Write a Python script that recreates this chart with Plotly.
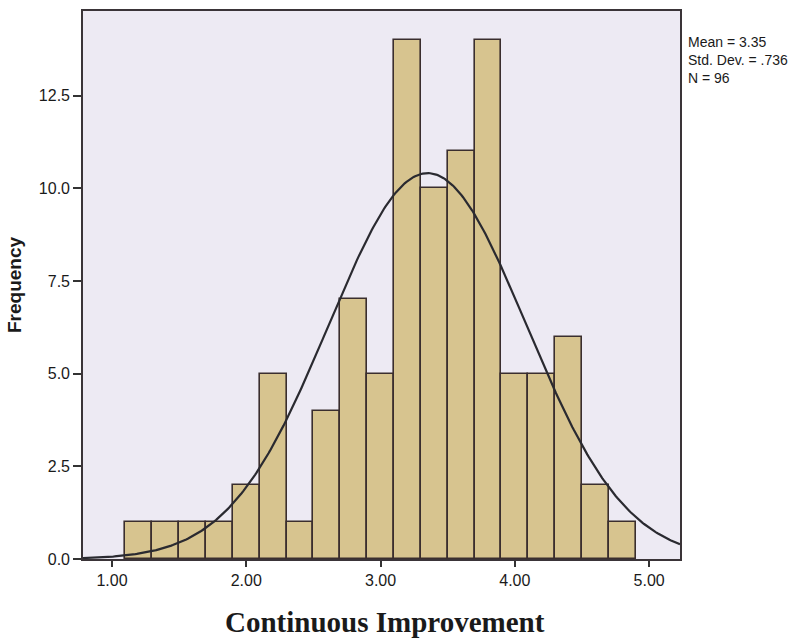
import numpy as np
import plotly.graph_objects as go

# Histogram data (bin width 0.2, starting at 1.1)
bin_starts = [1.1, 1.3, 1.5, 1.7, 1.9, 2.1, 2.3, 2.5, 2.7, 2.9,
              3.1, 3.3, 3.5, 3.7, 3.9, 4.1, 4.3, 4.5, 4.7]
frequencies = [1, 1, 1, 1, 2, 5, 1, 4, 7, 5,
               14, 10, 11, 14, 5, 5, 6, 2, 1]
bin_width = 0.2

mean_val = 3.35
std_val = 0.736
n_val = 96

x_ticks = [1.0, 2.0, 3.0, 4.0, 5.0]
y_ticks = [0.0, 2.5, 5.0, 7.5, 10.0, 12.5]

x_range = [0.784, 5.23]
y_range = [0, 14.78]

centers = [s + bin_width / 2 for s in bin_starts]

# fitted normal curve from the stated statistics
xc = np.linspace(x_range[0], x_range[1], 400)
yc = n_val * bin_width / (std_val * np.sqrt(2 * np.pi)) * np.exp(-0.5 * ((xc - mean_val) / std_val) ** 2)

fig = go.Figure()
fig.add_trace(go.Bar(
    x=centers, y=frequencies, width=bin_width,
    marker=dict(color="#D7C48F", line=dict(color="#3A2E2E", width=1.6)),
    hoverinfo="x+y", showlegend=False,
))
fig.add_trace(go.Scatter(
    x=xc, y=yc, mode="lines",
    line=dict(color="#2A2A30", width=2.2),
    hoverinfo="skip", showlegend=False,
))

tick_font = dict(family="Liberation Sans, Arial, sans-serif", size=16, color="#1a1a1a")

fig.update_layout(
    width=807, height=643,
    margin=dict(l=83, r=127, t=9, b=84),
    paper_bgcolor="white",
    plot_bgcolor="#EDEAF3",
    bargap=0,
    xaxis=dict(
        range=x_range, tickvals=x_ticks, tickformat=".2f",
        ticks="outside", ticklen=6, tickwidth=2, tickcolor="#333",
        showline=True, mirror=True, linecolor="#3a3438", linewidth=1.6,
        showgrid=False, zeroline=False, tickfont=tick_font,
    ),
    yaxis=dict(
        range=y_range, tickvals=y_ticks, tickformat=".1f",
        ticks="outside", ticklen=8, tickwidth=2, tickcolor="#333",
        showline=True, mirror=True, linecolor="#3a3438", linewidth=1.6,
        showgrid=False, zeroline=False, tickfont=tick_font,
        title=dict(text="<b>Frequency</b>", standoff=12,
                   font=dict(family="Liberation Sans, Arial, sans-serif", size=19, color="#1a1a1a")),
    ),
)

fig.add_annotation(
    text="<b>Continuous Improvement</b>",
    xref="paper", yref="paper", x=0.506, y=-0.1145,
    xanchor="center", yanchor="middle", showarrow=False,
    font=dict(family="Liberation Serif, Times New Roman, serif", size=29, color="#1a1a1a"),
)

stat_lines = ["Mean = 3.35", "Std. Dev. = .736", "N = 96"]
fig.add_annotation(
    text="<br>".join(stat_lines), xref="paper", yref="paper",
    x=(686 - 83) / (680 - 83), y=(559 - 58) / 550,
    xanchor="left", yanchor="middle", align="left", showarrow=False,
    font=dict(family="Liberation Sans, Arial, sans-serif", size=14, color="#1a1a1a"),
)

fig.write_html("out.html")
